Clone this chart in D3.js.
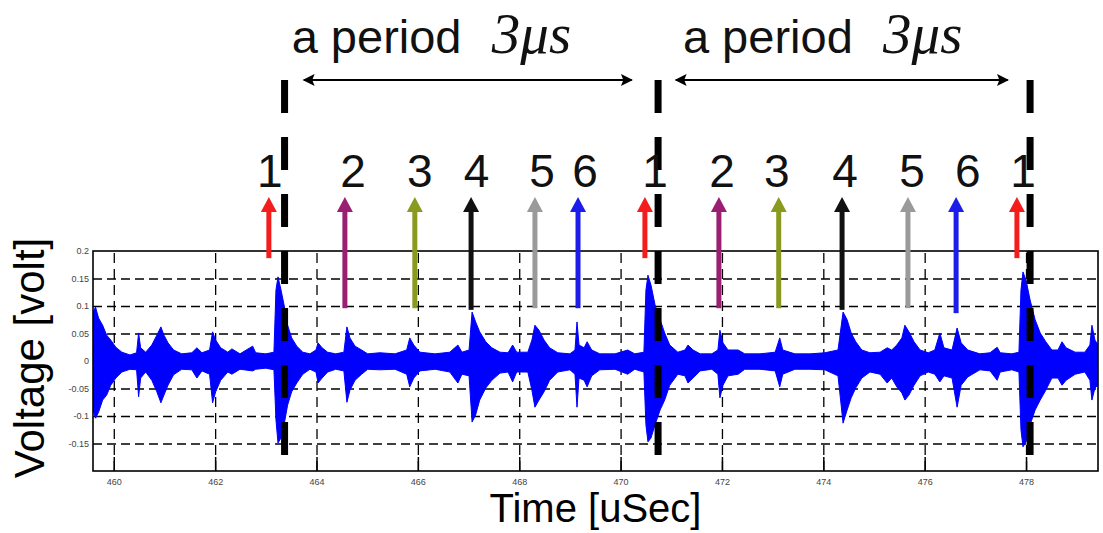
<!DOCTYPE html>
<html>
<head>
<meta charset="utf-8">
<title>Voltage trace</title>
<script src="https://d3js.org/d3.v7.min.js"></script>
<style>
    body { margin: 0; background: #fff; }
    svg { display: block; font-family: Arial, "Liberation Sans", sans-serif; }
    .grid line { stroke: #000; stroke-width: 1.3px; }
    .tick-label text { fill: #444; font-size: 9px; }
</style>
</head>
<body>
<div id="chart"></div>
<script>
// signal envelope: time [uSec], upper and lower voltage [volt]
const sigT = [459.59,459.64,459.70,459.78,459.86,459.94,460.04,460.16,460.32,460.45,460.49,460.53,460.63,460.75,460.85,460.93,460.99,461.07,461.18,461.34,
    461.54,461.64,461.74,461.89,461.95,462.01,462.11,462.25,462.33,462.49,462.74,462.80,463.00,463.16,463.20,463.24,463.30,463.36,463.43,463.51,
    463.61,463.73,463.87,463.99,464.03,464.11,464.22,464.38,464.54,464.60,464.66,464.76,464.89,465.01,465.25,465.55,465.78,465.84,465.92,466.04,
    466.34,466.63,466.79,466.87,467.01,467.07,467.14,467.22,467.34,467.46,467.62,467.78,467.87,467.95,468.17,468.25,468.31,468.39,468.49,468.60,
    468.76,469.00,469.10,469.14,469.18,469.28,469.34,469.43,469.59,469.89,470.14,470.28,470.46,470.50,470.54,470.60,470.68,470.78,470.87,470.97,
    471.13,471.27,471.33,471.43,471.57,471.80,471.92,471.96,472.02,472.12,472.32,472.45,472.75,473.05,473.14,473.20,473.44,473.74,474.03,474.29,
    474.39,474.47,474.55,474.64,474.76,474.92,475.12,475.26,475.35,475.45,475.55,475.61,475.69,475.79,475.91,476.07,476.20,476.30,476.38,476.54,
    476.64,476.72,476.85,477.09,477.29,477.43,477.49,477.72,477.86,477.90,477.94,478.00,478.08,478.18,478.28,478.39,478.51,478.63,478.71,478.79,
    478.97,479.16,479.26,479.30,479.36,479.42];
const sigHi = [0.089,0.098,0.078,0.065,0.047,0.038,0.025,0.016,0.011,0.015,0.051,0.024,0.016,0.029,0.047,0.062,0.047,0.033,0.020,0.013,
    0.015,0.024,0.015,0.020,0.053,0.038,0.024,0.016,0.022,0.013,0.027,0.015,0.013,0.016,0.129,0.153,0.129,0.102,0.065,0.042,
    0.027,0.016,0.013,0.020,0.033,0.024,0.016,0.013,0.016,0.062,0.042,0.027,0.020,0.013,0.015,0.013,0.020,0.042,0.029,0.016,
    0.013,0.016,0.029,0.016,0.020,0.089,0.071,0.053,0.035,0.024,0.016,0.015,0.029,0.016,0.016,0.038,0.065,0.056,0.038,0.024,
    0.015,0.013,0.020,0.071,0.029,0.024,0.035,0.020,0.013,0.013,0.020,0.013,0.016,0.129,0.156,0.138,0.102,0.075,0.051,0.029,
    0.016,0.020,0.029,0.020,0.013,0.013,0.020,0.056,0.033,0.020,0.020,0.013,0.013,0.016,0.042,0.020,0.013,0.013,0.015,0.020,
    0.089,0.075,0.051,0.035,0.020,0.015,0.016,0.024,0.020,0.029,0.042,0.065,0.053,0.035,0.020,0.015,0.020,0.051,0.024,0.020,
    0.060,0.033,0.020,0.013,0.015,0.025,0.015,0.013,0.016,0.129,0.162,0.147,0.111,0.075,0.051,0.035,0.020,0.020,0.035,0.024,
    0.016,0.016,0.029,0.065,0.038,0.029];
const sigLo = [-0.089,-0.104,-0.093,-0.071,-0.062,-0.044,-0.031,-0.020,-0.015,-0.016,-0.065,-0.031,-0.020,-0.035,-0.056,-0.076,-0.062,-0.044,-0.025,-0.015,
    -0.016,-0.031,-0.018,-0.024,-0.076,-0.056,-0.035,-0.020,-0.024,-0.015,-0.018,-0.015,-0.013,-0.016,-0.107,-0.149,-0.140,-0.116,-0.080,-0.056,
    -0.040,-0.024,-0.015,-0.020,-0.040,-0.031,-0.020,-0.015,-0.018,-0.075,-0.053,-0.035,-0.024,-0.015,-0.016,-0.015,-0.024,-0.047,-0.031,-0.018,
    -0.015,-0.020,-0.040,-0.024,-0.027,-0.111,-0.098,-0.071,-0.049,-0.035,-0.022,-0.020,-0.038,-0.020,-0.020,-0.053,-0.084,-0.071,-0.056,-0.035,
    -0.020,-0.016,-0.024,-0.084,-0.031,-0.035,-0.047,-0.027,-0.016,-0.015,-0.024,-0.015,-0.020,-0.116,-0.147,-0.140,-0.116,-0.089,-0.071,-0.044,
    -0.024,-0.027,-0.040,-0.031,-0.018,-0.015,-0.024,-0.067,-0.044,-0.027,-0.024,-0.015,-0.015,-0.018,-0.047,-0.024,-0.015,-0.015,-0.016,-0.027,
    -0.113,-0.089,-0.067,-0.049,-0.031,-0.020,-0.024,-0.040,-0.031,-0.047,-0.058,-0.071,-0.062,-0.044,-0.027,-0.020,-0.024,-0.038,-0.027,-0.031,
    -0.084,-0.044,-0.029,-0.016,-0.018,-0.035,-0.020,-0.016,-0.020,-0.125,-0.156,-0.147,-0.116,-0.089,-0.071,-0.053,-0.031,-0.031,-0.044,-0.035,
    -0.024,-0.020,-0.035,-0.071,-0.049,-0.044];

const xTicks = [460, 462, 464, 466, 468, 470, 472, 474, 476, 478];
const yTicks = [0.2, 0.15, 0.1, 0.05, 0, -0.05, -0.1, -0.15];
const gridY = [0.15, 0.1, 0.05, 0, -0.05, -0.1, -0.15];

// numbered markers above the trace
const markNum = ['1', '2', '3', '4', '5', '6', '1', '2', '3', '4', '5', '6', '1'];
const markT = [463.06, 464.56, 465.94, 467.05, 468.31, 469.16, 470.48, 471.94, 473.12, 474.37, 475.67, 476.62, 477.82];
const markLabelT = [463.08, 464.72, 466.04, 467.16, 468.45, 469.30, 470.68, 472.00, 473.08, 474.43, 475.75, 476.85, 477.94];
const markBase = [0.187, 0.096, 0.096, 0.093, 0.096, 0.096, 0.187, 0.096, 0.096, 0.093, 0.096, 0.087, 0.187];
const markColor = ['#f31d1d', '#9a1f72', '#8a9a1e', '#111111', '#9a9a9a', '#1c1ceb', '#f31d1d',
                   '#9a1f72', '#8a9a1e', '#111111', '#9a9a9a', '#1c1ceb', '#f31d1d'];

// period boundaries and spans
const periodT = [463.37, 470.74, 478.08];
const spanFrom = [463.75, 471.09];
const spanTo = [470.22, 477.64];
const spanTextT = [463.51, 471.23];
const spanUnitT = [467.46, 475.18];

const width = 1103, height = 533;
const plot = { left: 93, right: 1098, top: 251, bottom: 471 };

const x = d3.scaleLinear().domain([459.59, 479.42]).range([plot.left, plot.right]);
const y = d3.scaleLinear().domain([-0.2, 0.2]).range([plot.bottom, plot.top]);

const svg = d3.select('#chart').append('svg')
    .attr('width', width)
    .attr('height', height);

svg.append('defs').append('clipPath').attr('id', 'clip')
    .append('rect')
    .attr('x', plot.left).attr('y', plot.top)
    .attr('width', plot.right - plot.left).attr('height', plot.bottom - plot.top);

// grid
svg.append('g')
    .attr('class', 'grid')
    .attr('transform', `translate(${plot.left},0)`)
    .call(d3.axisLeft(y).tickValues(gridY).tickSize(-(plot.right - plot.left)).tickFormat(''))
    .call(g => g.select('.domain').remove())
    .call(g => g.selectAll('line').attr('stroke-dasharray', '9,5'));

svg.append('g')
    .attr('class', 'grid')
    .attr('transform', `translate(0,${plot.bottom})`)
    .call(d3.axisBottom(x).tickValues(xTicks).tickSize(-(plot.bottom - plot.top)).tickFormat(''))
    .call(g => g.select('.domain').remove())
    .call(g => g.selectAll('line').attr('stroke-dasharray', '10,6'));

// signal
const idx = d3.range(sigT.length);
const area = d3.area()
    .x(i => x(sigT[i]))
    .y0(i => y(sigLo[i]))
    .y1(i => y(sigHi[i]));

svg.append('path')
    .datum(idx)
    .attr('clip-path', 'url(#clip)')
    .attr('d', area)
    .attr('fill', '#0000ff')
    .attr('stroke', '#0000ff')
    .attr('stroke-width', 1);

// inward ticks
svg.append('g')
    .attr('transform', `translate(0,${plot.bottom})`)
    .call(d3.axisBottom(x).tickValues(xTicks).tickSizeInner(-14).tickSizeOuter(0).tickFormat(''))
    .call(g => g.select('.domain').remove())
    .call(g => g.selectAll('line').attr('stroke', '#000').attr('stroke-width', 1.5));

// frame
svg.append('rect')
    .attr('x', plot.left).attr('y', plot.top)
    .attr('width', plot.right - plot.left).attr('height', plot.bottom - plot.top)
    .attr('fill', 'none')
    .attr('stroke', '#000')
    .attr('stroke-width', 1.6);

// tick labels
svg.append('g')
    .attr('class', 'tick-label')
    .attr('transform', `translate(0,${plot.bottom})`)
    .call(d3.axisBottom(x).tickValues(xTicks).tickSize(0).tickPadding(8).tickFormat(d => String(d)))
    .call(g => g.select('.domain').remove());

svg.append('g')
    .attr('class', 'tick-label')
    .attr('transform', `translate(${plot.left},0)`)
    .call(d3.axisLeft(y).tickValues(yTicks).tickSize(0).tickPadding(4).tickFormat(d => String(d)))
    .call(g => g.select('.domain').remove());

// axis titles
svg.append('text')
    .attr('x', (plot.left + plot.right) / 2)
    .attr('y', 522)
    .attr('text-anchor', 'middle')
    .attr('font-size', 40)
    .text('Time [uSec]');

svg.append('text')
    .attr('transform', `translate(44,${(plot.top + plot.bottom) / 2 - 3}) rotate(-90)`)
    .attr('text-anchor', 'middle')
    .attr('font-size', 42)
    .text('Voltage [volt]');

// period boundaries (thick dashed)
svg.append('g').selectAll('line')
    .data(periodT)
    .join('line')
    .attr('x1', d => x(d)).attr('x2', d => x(d))
    .attr('y1', y(0.511)).attr('y2', y(-0.2))
    .attr('stroke', '#000')
    .attr('stroke-width', 7)
    .attr('stroke-dasharray', '33,24');

// markers
const head = 15, halfW = 8;
const marks = svg.append('g').selectAll('g')
    .data(markT.map((t, i) => ({ t, i })))
    .join('g');

marks.append('line')
    .attr('x1', d => x(d.t)).attr('x2', d => x(d.t))
    .attr('y1', d => y(markBase[d.i]))
    .attr('y2', y(0.298) + head - 2)
    .attr('stroke', d => markColor[d.i])
    .attr('stroke-width', 5);

marks.append('path')
    .attr('d', d => {
        const cx = x(d.t), ty = y(0.298);
        return `M${cx},${ty}L${cx + halfW},${ty + head}L${cx - halfW},${ty + head}Z`;
    })
    .attr('fill', d => markColor[d.i]);

svg.append('g').selectAll('text')
    .data(markNum)
    .join('text')
    .attr('x', (d, i) => x(markLabelT[i]))
    .attr('y', y(0.316))
    .attr('text-anchor', 'middle')
    .attr('font-size', 46)
    .attr('fill', '#111')
    .text(d => d);

// period spans
const defs = svg.select('defs');
defs.append('marker')
    .attr('id', 'ah')
    .attr('viewBox', '0 0 10 10')
    .attr('refX', 9).attr('refY', 5)
    .attr('markerWidth', 8).attr('markerHeight', 6)
    .attr('markerUnits', 'strokeWidth')
    .attr('orient', 'auto-start-reverse')
    .append('path')
    .attr('d', 'M0,0L10,5L0,10L2,5Z')
    .attr('fill', '#000');

svg.append('g').selectAll('line')
    .data(spanFrom)
    .join('line')
    .attr('x1', d => x(d)).attr('x2', (d, i) => x(spanTo[i]))
    .attr('y1', y(0.511)).attr('y2', y(0.511))
    .attr('stroke', '#000')
    .attr('stroke-width', 2)
    .attr('marker-start', 'url(#ah)')
    .attr('marker-end', 'url(#ah)');

svg.append('g').selectAll('text.period')
    .data(spanTextT)
    .join('text')
    .attr('class', 'period')
    .attr('x', d => x(d))
    .attr('y', y(0.56))
    .attr('font-size', 47)
    .attr('fill', '#111')
    .text('a period');

svg.append('g').selectAll('text.unit')
    .data(spanUnitT)
    .join('text')
    .attr('class', 'unit')
    .attr('x', d => x(d))
    .attr('y', y(0.56))
    .attr('font-size', 57)
    .attr('font-family', '"Liberation Serif", "DejaVu Serif", serif')
    .attr('font-style', 'italic')
    .attr('fill', '#111')
    .text('3\u03bcs');
</script>
</body>
</html>
